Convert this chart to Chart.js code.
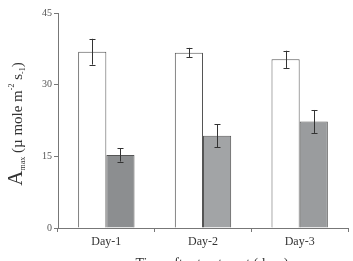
<!DOCTYPE html>
<html><head><meta charset="utf-8">
<script src="https://cdn.jsdelivr.net/npm/chart.js@4.4.0/dist/chart.umd.min.js"></script>
<style>html,body{margin:0;padding:0;background:#fff;}#wrap{width:353px;height:261px;}</style>
</head><body><div id="wrap"><canvas id="c" width="353" height="261"></canvas></div>
<script>
const categories = ["Day-1", "Day-2", "Day-3"];
const controlValues = [36.9, 36.7, 35.3];
const controlErrors = [2.7, 1.0, 1.8];
const treatedValues = [15.3, 19.3, 22.3];
const treatedErrors = [1.4, 2.4, 2.4];
const yTicks = [0, 15, 30, 45];
const xTitle = "Time after treatment (days)";

const serif = "'Liberation Serif', 'DejaVu Serif', serif";

const errorBars = {
  id: 'errorBars',
  afterDatasetsDraw(chart) {
    const ctx = chart.ctx;
    const ys = chart.scales.y;
    ctx.save();
    ctx.strokeStyle = '#333';
    ctx.lineWidth = 1;
    chart.data.datasets.forEach((ds, i) => {
      const meta = chart.getDatasetMeta(i);
      meta.data.forEach((bar, j) => {
        const v = ds.data[j], e = ds.errors[j];
        const x = Math.round(bar.x) + 0.5;
        const yT = ys.getPixelForValue(v + e), yB = ys.getPixelForValue(v - e);
        ctx.beginPath();
        ctx.moveTo(x, yT); ctx.lineTo(x, yB);
        ctx.moveTo(x - 3, Math.round(yT) + 0.5); ctx.lineTo(x + 3, Math.round(yT) + 0.5);
        ctx.moveTo(x - 3, Math.round(yB) + 0.5); ctx.lineTo(x + 3, Math.round(yB) + 0.5);
        ctx.stroke();
      });
    });
    ctx.restore();
  }
};

const titles = {
  id: 'titles',
  afterDraw(chart) {
    const ctx = chart.ctx;
    ctx.save();
    ctx.fillStyle = '#333';
    // x title
    ctx.font = "14px " + serif;
    ctx.textAlign = 'center';
    ctx.textBaseline = 'top';
    ctx.fillText(xTitle, 212, 257);
    // y title with sub/superscripts
    const parts = [
      {t: "A", s: 21, dy: 0},
      {t: "max", s: 8, dy: 3},
      {t: " (\u00b5 mole m", s: 15, dy: 0},
      {t: "-2", s: 8, dy: -8},
      {t: " s", s: 15, dy: 0},
      {t: "-1", s: 8, dy: 3},
      {t: ")", s: 15, dy: 0}
    ];
    let total = 0;
    parts.forEach(p => { ctx.font = p.s + "px " + serif; p.w = ctx.measureText(p.t).width; total += p.w; });
    ctx.translate(22, 124);
    ctx.rotate(-Math.PI / 2);
    ctx.textAlign = 'left';
    ctx.textBaseline = 'alphabetic';
    let x = -total / 2;
    parts.forEach(p => { ctx.font = p.s + "px " + serif; ctx.fillText(p.t, x, p.dy); x += p.w; });
    ctx.restore();
  }
};

new Chart(document.getElementById('c'), {
  type: 'bar',
  data: {
    labels: categories,
    datasets: [
      {label: 'Control', data: controlValues, errors: controlErrors,
       backgroundColor: '#ffffff', borderColor: '#555', borderWidth: 1},
      {label: 'Treated', data: treatedValues, errors: treatedErrors,
       backgroundColor: ['#8c8e90', '#a2a4a6', '#9a9c9e'], borderColor: '#555', borderWidth: 1}
    ]
  },
  options: {
    responsive: false,
    animation: false,
    events: [],
    layout: {padding: {top: 13, right: 5, left: 0, bottom: 0}},
    datasets: {bar: {barPercentage: 1, categoryPercentage: 0.583}},
    plugins: {legend: {display: false}, tooltip: {enabled: false}},
    scales: {
      x: {
        grid: {display: true, drawOnChartArea: false, drawTicks: true, tickLength: 4, offset: true, color: '#777'},
        border: {color: '#777', width: 1},
        ticks: {color: '#333', font: {family: serif, size: 12}, padding: 3},
        afterFit(s) { s.height = 33; }
      },
      y: {
        min: 0, max: 45,
        afterBuildTicks(s) { s.ticks = yTicks.map(v => ({value: v})); },
        grid: {display: true, drawOnChartArea: false, drawTicks: true, tickLength: 4, color: '#777'},
        border: {color: '#777', width: 1},
        ticks: {color: '#555', font: {family: serif, size: 10}, padding: 2},
        afterFit(s) { s.width = 58; }
      }
    }
  },
  plugins: [errorBars, titles]
});
</script>
</body></html>
